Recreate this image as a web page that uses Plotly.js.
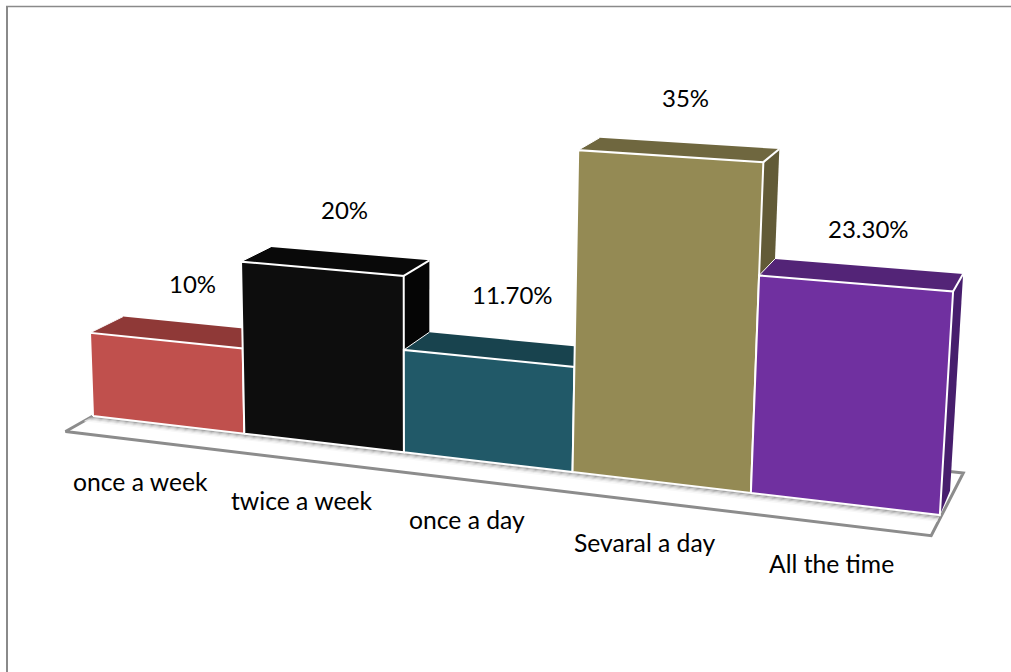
<!DOCTYPE html>
<html>
<head>
<meta charset="utf-8">
<script src="https://cdn.plot.ly/plotly-3.0.1.min.js"></script>
<style>html,body{margin:0;padding:0;background:#fff}#chart{width:1011px;height:672px}</style>
</head>
<body>
<div id="chart"></div>
<script>
// Frequency of use, drawn as a 3-D column chart with contiguous columns.
const categories = ['once a week', 'twice a week', 'once a day', 'Sevaral a day', 'All the time'];
const shares = [10, 20, 11.7, 35, 23.3];
const shareLabels = ['10%', '20%', '11.70%', '35%', '23.30%'];

const frontColors = ['#C0504D', '#0D0D0D', '#215968', '#948A54', '#7030A0'];
const topColors   = ['#8F3937', '#090909', '#18434E', '#6F673F', '#532477'];
const sideColors  = ['#7A302E', '#050505', '#133640', '#625B37', '#471E6D'];

// Where the text sits on the page.
const shareLabelX = [192, 344, 512, 685, 868];
const shareLabelY = [283, 209, 294, 97, 228];
const categoryLabelX = [140, 301, 467, 644, 831];
const categoryLabelY = [481, 500, 519, 542, 563];

// Perspective view: column position u, share v and depth w map to the page.
const view = {
  x: [93, 145, -0.3828, 36.24],
  y: [416, 6.45, -8.62, -7],
  d: [1, -0.02593, -0.00092, 0.0288]
};
function project(u, v, w) {
  const apply = c => c[0] + c[1] * u + c[2] * v + c[3] * w;
  const d = apply(view.d);
  return [apply(view.x) / d, apply(view.y) / d];
}

function face(points, fill, lineColor, lineWidth) {
  const xy = points.map(p => project(p[0], p[1], p[2]));
  xy.push(xy[0]);
  return {
    type: 'scatter', mode: lineWidth ? 'lines' : 'none',
    x: xy.map(p => p[0]), y: xy.map(p => p[1]),
    fill: 'toself', fillcolor: fill,
    line: {color: lineColor || fill, width: lineWidth || 0},
    hoverinfo: 'skip', showlegend: false
  };
}
function edge(a, b, color, width) {
  const xy = [project(a[0], a[1], a[2]), project(b[0], b[1], b[2])];
  return {
    type: 'scatter', mode: 'lines',
    x: xy.map(p => p[0]), y: xy.map(p => p[1]),
    line: {color: color, width: width},
    hoverinfo: 'skip', showlegend: false
  };
}

const traces = [];

// Floor slab running under the columns, with a soft shadow along their feet.
const floorFront = -0.8, floorBack = 1.8, floorEnd = 5.03;
traces.push(face([[0, 0, floorBack], [0, 0, floorFront], [floorEnd - 0.03, 0, floorFront], [floorEnd, 0, floorBack]],
  '#ffffff', '#8C8C8C', 3));
const shadowShades = ['#8F8F8F', '#A6A6A6', '#BEBEBE', '#D6D6D6', '#EAEAEA', '#F7F7F7'];
shadowShades.forEach((shade, i) => {
  const near = -0.045 * i, far = -0.045 * (i + 1);
  traces.push(face([[0, 0, near], [5, 0, near], [5, 0, far], [0, 0, far]], shade));
});

// Columns, left to right so each one overlaps its left neighbour.
shares.forEach((share, i) => {
  const l = i, r = i + 1;
  traces.push(face([[r, 0, 0], [r, 0, 1], [r, share, 1], [r, share, 0]], sideColors[i]));
  traces.push(face([[l, share, 0], [r, share, 0], [r, share, 1], [l, share, 1]], topColors[i]));
  traces.push(edge([r, share, 0], [r, share, 1], '#ffffff', 2));
  traces.push(edge([l, share, 0], [l, share, 1], '#ffffff', 1));
  traces.push(face([[l, 0, 0], [r, 0, 0], [r, share, 0], [l, share, 0]], frontColors[i], '#ffffff', 2));
});

const shareFont = {family: 'Lato, Carlito, sans-serif', size: 24, color: '#000000'};
const categoryFont = {family: 'Lato, Carlito, sans-serif', size: 24.7, color: '#000000'};
const annotations = [];
shareLabels.forEach((t, i) => annotations.push({
  text: t, x: shareLabelX[i], y: shareLabelY[i], xref: 'x', yref: 'y',
  showarrow: false, xanchor: 'center', yanchor: 'middle', font: shareFont
}));
categories.forEach((t, i) => annotations.push({
  text: t, x: categoryLabelX[i], y: categoryLabelY[i], xref: 'x', yref: 'y',
  showarrow: false, xanchor: 'center', yanchor: 'middle', font: categoryFont
}));

const layout = {
  width: 1011, height: 672,
  margin: {l: 0, r: 0, t: 0, b: 0},
  paper_bgcolor: '#ffffff', plot_bgcolor: '#ffffff',
  showlegend: false,
  xaxis: {range: [0, 1011], visible: false, fixedrange: true},
  yaxis: {range: [672, 0], visible: false, fixedrange: true},
  annotations: annotations,
  shapes: [
    {type: 'line', xref: 'x', yref: 'y', x0: 7, x1: 7, y0: 6, y1: 672, line: {color: '#8A8A8A', width: 2}},
    {type: 'line', xref: 'x', yref: 'y', x0: 6, x1: 1011, y0: 6.5, y1: 6.5, line: {color: '#8A8A8A', width: 1.5}}
  ]
};
Plotly.newPlot('chart', traces, layout, {displayModeBar: false, staticPlot: true});
</script>
</body>
</html>
